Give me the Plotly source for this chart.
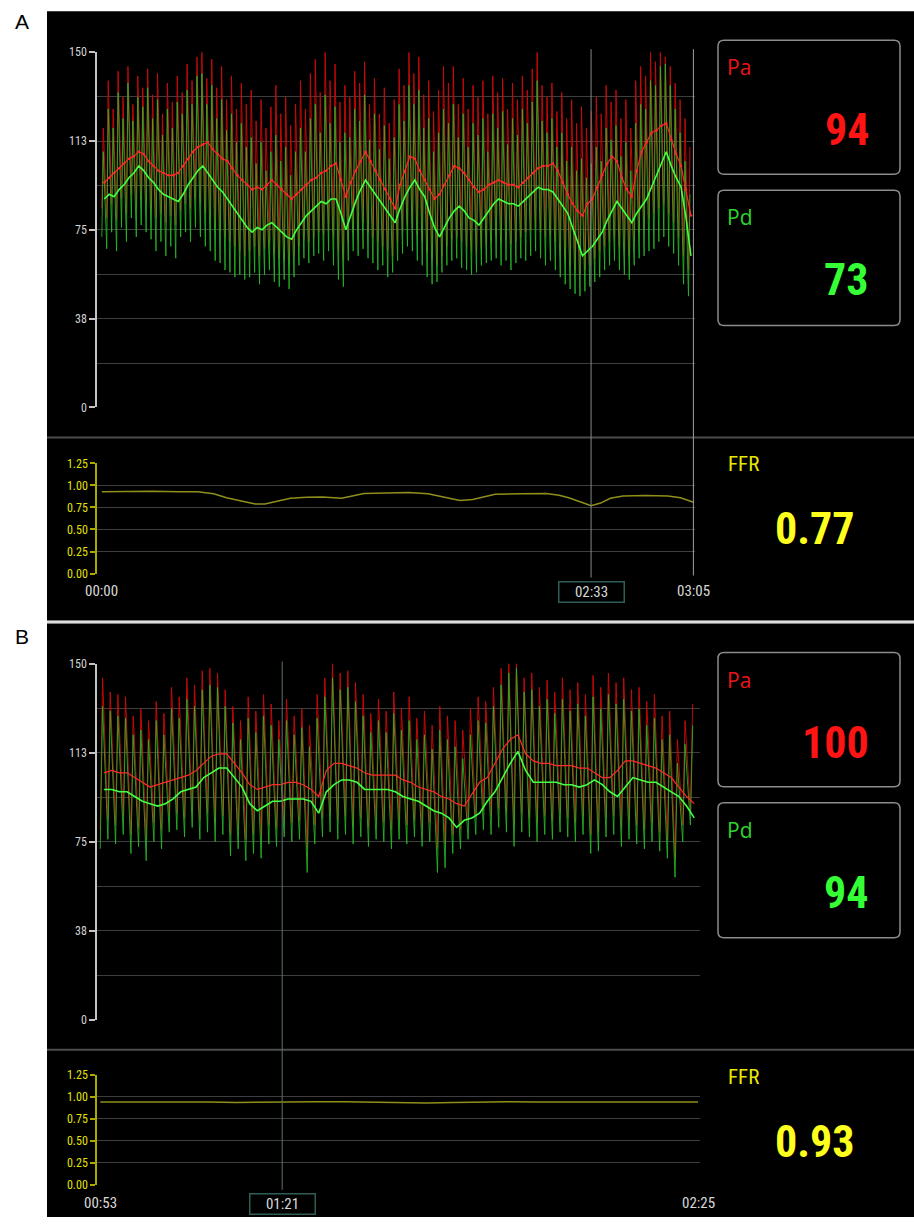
import plotly.graph_objects as go

W, H = 914, 1224
FONT = "Liberation Sans Narrow, Roboto Condensed, DejaVu Sans Condensed, Roboto, sans-serif"
FONT_L = "Open Sans, Noto Sans, Roboto, sans-serif"

# ---------------- Panel A data ----------------
a_time_range = [0, 185]            # seconds (00:00 - 03:05)
a_cursor = 153                     # 02:33
a_time_labels = ["00:00", "03:05"]
a_cursor_label = "02:33"
a_pa_value = "94"
a_pd_value = "73"
a_ffr_value = "0.77"

a_pa_sys = [
    118, 138, 126, 142, 131, 144, 128, 140, 135, 143,
    132, 141, 124, 137, 129, 140, 133, 145, 138, 148,
    150, 139, 147, 135, 144, 130, 140, 126, 137, 128,
    134, 121, 130, 118, 127, 136, 124, 131, 119, 128,
    138, 126, 141, 147, 133, 150, 138, 145, 129, 136,
    131, 142, 137, 146, 128, 139, 124, 135, 120, 130,
    143, 136, 150, 141, 148, 132, 138, 125, 134, 144,
    137, 144, 128, 139, 126, 136, 131, 138, 124, 140,
    133, 139, 126, 137, 130, 140, 134, 143, 150, 136,
    131, 137, 125, 133, 122, 130, 120, 127, 118, 125,
    131, 124, 136, 129, 134, 122, 130, 118, 138, 144,
    140, 150, 146, 150, 148, 144, 137, 130, 122, 110]
a_pd_sys = [
    108, 126, 118, 133, 122, 137, 121, 131, 127, 135,
    122, 130, 115, 126, 118, 129, 124, 134, 128, 140,
    141, 128, 136, 122, 130, 117, 124, 112, 120, 110,
    114, 103, 112, 100, 108, 115, 104, 110, 98, 108,
    118, 108, 122, 128, 116, 132, 120, 127, 112, 116,
    114, 126, 121, 132, 113, 124, 109, 119, 105, 114,
    128, 121, 136, 128, 134, 118, 122, 108, 116, 126,
    120, 128, 114, 124, 110, 120, 115, 122, 108, 124,
    118, 125, 111, 122, 115, 126, 120, 129, 138, 121,
    116, 122, 110, 116, 104, 110, 100, 105, 97, 103,
    110, 104, 118, 113, 119, 106, 112, 100, 120, 128,
    126, 138, 136, 144, 145, 136, 126, 116, 104, 90]
a_pa_dia = [
    84, 80, 86, 79, 88, 82, 90, 84, 88, 86,
    84, 80, 82, 78, 81, 77, 83, 86, 84, 88,
    86, 82, 80, 76, 74, 72, 70, 68, 66, 64,
    66, 68, 64, 67, 69, 65, 63, 62, 61, 64,
    68, 71, 70, 72, 74, 73, 75, 72, 66, 62,
    70, 74, 76, 78, 74, 72, 70, 68, 66, 64,
    70, 74, 77, 76, 73, 70, 66, 62, 60, 64,
    68, 71, 72, 70, 68, 66, 65, 67, 69, 70,
    72, 70, 71, 69, 70, 72, 74, 75, 76, 74,
    72, 73, 70, 66, 62, 60, 58, 56, 58, 60,
    63, 66, 68, 70, 72, 68, 66, 64, 70, 74,
    76, 80, 82, 84, 86, 82, 78, 72, 64, 58]
a_pd_dia = [
    72, 67, 74, 66, 76, 70, 80, 72, 77, 74,
    71, 66, 70, 64, 68, 63, 72, 74, 70, 76,
    72, 68, 66, 62, 61, 58, 57, 55, 56, 54,
    55, 57, 52, 56, 58, 53, 51, 54, 50, 55,
    60, 63, 61, 64, 65, 62, 66, 60, 54, 51,
    62, 66, 64, 67, 63, 61, 58, 60, 55, 57,
    62, 65, 68, 66, 62, 60, 55, 52, 53, 57,
    60, 62, 63, 59, 58, 56, 57, 60, 61, 62,
    63, 60, 62, 58, 61, 63, 62, 64, 66, 63,
    60, 62, 58, 55, 52, 50, 48, 47, 49, 51,
    53, 55, 58, 60, 62, 58, 56, 54, 60, 63,
    64, 66, 67, 70, 72, 68, 65, 60, 52, 47]
a_pa_mean = [
    95, 97, 99, 101, 103, 105, 106, 108, 107, 104,
    102, 100, 99, 98, 98, 99, 102, 105, 108, 110,
    111, 112, 109, 107, 105, 104, 101, 98, 96, 94,
    92, 93, 92, 94, 96, 94, 92, 90, 88, 90,
    92, 94, 96, 97, 99, 100, 102, 103, 96, 89,
    95, 100, 104, 108, 104, 100, 96, 92, 88, 84,
    94, 100, 106, 105, 100, 96, 92, 88, 90, 94,
    98, 102, 101, 99, 96, 93, 91, 92, 94, 95,
    96, 95, 94, 94, 93, 95, 97, 99, 101, 102,
    102, 103, 100, 95, 90, 86, 83, 81, 86, 88,
    93, 98, 103, 106, 104, 97, 92, 89, 100, 108,
    112, 116, 117, 119, 120, 113, 107, 102, 92, 81]
a_pd_mean = [
    88, 90, 89, 92, 94, 97, 99, 102, 100, 97,
    95, 92, 90, 89, 88, 87, 90, 94, 97, 100,
    102, 99, 96, 93, 91, 88, 85, 82, 79, 76,
    74, 76, 75, 77, 78, 76, 74, 72, 71, 75,
    78, 81, 83, 85, 87, 86, 88, 88, 82, 75,
    81, 87, 92, 96, 93, 90, 87, 84, 81, 78,
    84, 89, 93, 96, 92, 89, 82, 76, 72, 76,
    80, 83, 85, 83, 80, 79, 77, 80, 83, 86,
    88, 87, 86, 86, 85, 87, 89, 91, 93, 92,
    92, 91, 88, 85, 82, 76, 70, 64, 66, 68,
    71, 74, 79, 83, 87, 84, 81, 78, 82, 85,
    88, 93, 98, 103, 108, 102, 97, 93, 80, 64]
a_ffr_t = [0, 8, 16, 24, 30, 35, 39, 44, 48, 51,
           55, 59, 64, 69, 75, 79, 82, 89, 96, 102,
           107, 112, 116, 120, 123, 131, 139, 143, 146, 150,
           153, 156, 159, 163, 170, 177, 181, 185]
a_ffr = [0.93, 0.935, 0.935, 0.93, 0.93, 0.905, 0.86, 0.82, 0.79, 0.79,
         0.82, 0.855, 0.865, 0.87, 0.855, 0.885, 0.91, 0.915, 0.92, 0.905,
         0.87, 0.83, 0.84, 0.87, 0.90, 0.905, 0.91, 0.89, 0.86, 0.81,
         0.77, 0.80, 0.855, 0.88, 0.885, 0.88, 0.86, 0.81]

# ---------------- Panel B data ----------------
b_time_range = [53, 145]           # seconds (00:53 - 02:25)
b_cursor = 81                      # 01:21
b_time_labels = ["00:53", "02:25"]
b_cursor_label = "01:21"
b_pa_value = "100"
b_pd_value = "94"
b_ffr_value = "0.93"

b_pa_sys = [
    144, 138, 137, 136, 128, 131, 126, 134, 129, 140,
    136, 144, 141, 147, 148, 146, 139, 132, 126, 136,
    130, 137, 133, 126, 135, 128, 131, 124, 137, 144,
    150, 146, 147, 142, 137, 129, 135, 130, 138, 131,
    136, 127, 130, 124, 132, 128, 126, 122, 131, 136,
    134, 140, 148, 150, 150, 144, 146, 140, 143, 138,
    144, 139, 142, 137, 145, 140, 146, 142, 144, 139,
    140, 134, 137, 128, 130, 118, 126, 133]
b_pd_sys = [
    132, 130, 128, 127, 120, 122, 118, 126, 120, 131,
    127, 135, 132, 139, 141, 140, 132, 125, 118, 127,
    121, 128, 124, 118, 126, 120, 123, 115, 127, 136,
    144, 139, 140, 134, 128, 121, 126, 121, 129, 122,
    126, 118, 120, 114, 122, 118, 115, 110, 120, 126,
    125, 132, 141, 146, 148, 138, 139, 132, 135, 129,
    135, 130, 133, 128, 136, 131, 137, 133, 135, 130,
    131, 124, 127, 118, 120, 108, 116, 124]
b_pa_dia = [
    80, 84, 82, 86, 78, 81, 76, 83, 80, 86,
    87, 85, 88, 84, 87, 83, 86, 78, 80, 76,
    78, 77, 82, 81, 84, 83, 84, 72, 82, 85,
    87, 84, 86, 82, 85, 81, 84, 83, 80, 84,
    82, 84, 81, 83, 72, 74, 78, 80, 84, 86,
    88, 86, 89, 87, 82, 87, 85, 83, 86, 84,
    87, 85, 83, 86, 78, 79, 85, 86, 81, 84,
    82, 80, 83, 79, 76, 68, 82, 88]
b_pd_dia = [
    72, 76, 74, 78, 70, 73, 67, 75, 72, 79,
    80, 77, 81, 76, 79, 75, 78, 69, 72, 67,
    70, 68, 74, 73, 77, 75, 76, 62, 74, 77,
    79, 76, 78, 74, 77, 73, 76, 75, 72, 76,
    74, 77, 73, 75, 62, 64, 70, 72, 76, 78,
    80, 78, 81, 79, 73, 79, 77, 75, 78, 76,
    79, 77, 75, 78, 70, 71, 77, 78, 73, 76,
    74, 72, 75, 71, 68, 60, 75, 82]
b_pa_mean = [
    104, 105, 104, 104, 102, 100, 98, 99, 100, 101,
    102, 103, 105, 108, 111, 112, 112, 108, 104, 99,
    97, 98, 99, 99, 100, 100, 99, 97, 94, 105,
    108, 108, 107, 106, 104, 103, 103, 103, 103, 101,
    100, 98, 97, 96, 94, 93, 91, 90, 95, 100,
    102, 108, 114, 118, 120, 112, 109, 108, 108, 107,
    107, 107, 106, 106, 104, 102, 102, 105, 109, 109,
    108, 107, 106, 104, 102, 98, 94, 91]
b_pd_mean = [
    97, 97, 96, 96, 94, 92, 91, 90, 91, 93,
    96, 97, 98, 102, 104, 106, 106, 102, 98, 91,
    88, 90, 92, 92, 93, 93, 93, 92, 87, 96,
    99, 101, 101, 100, 97, 97, 97, 97, 96, 94,
    93, 92, 90, 88, 87, 85, 81, 84, 85, 87,
    92, 96, 102, 108, 113, 105, 100, 100, 100, 100,
    99, 99, 98, 99, 101, 99, 96, 94, 98, 102,
    101, 100, 100, 98, 96, 94, 90, 85]
b_ffr = [0.94, 0.94, 0.94, 0.945, 0.94, 0.935, 0.94, 0.94, 0.945, 0.945,
         0.94, 0.935, 0.93, 0.935, 0.94, 0.945, 0.94, 0.94, 0.94, 0.94,
         0.935, 0.935, 0.94]

# shared axis tick labels
press_tickvals = [0, 37.5, 75, 112.5, 150]
press_ticktext = ["0", "38", "75", "113", "150"]
press_minor = [18.75, 56.25, 93.75, 131.25]
ffr_tickvals = [0, 0.25, 0.5, 0.75, 1.0, 1.25]

# page-to-screenshot vertical compensation (observed offset / scale of the capture)
Y_OFF, Y_SCALE = 7.8, 0.988


def px(p):
    return p / W


def py(p):
    return 1 - ((p - Y_OFF) / Y_SCALE) / H


def pulses(t0, t1, sys, dia):
    n = len(sys)
    T = (t1 - t0) / n
    xs, ys = [], []
    for i in range(n):
        ts = t0 + i * T
        xs += [ts, ts + 0.3 * T]
        ys += [dia[i], sys[i]]
    return xs, ys


def beat_centers(t0, t1, n):
    T = (t1 - t0) / n
    return [t0 + (i + 0.5) * T for i in range(n)]


def even_times(t0, t1, n):
    return [t0 + (t1 - t0) * i / (n - 1) for i in range(n)]


fig = go.Figure()

PA_COL = "rgba(205,10,10,0.92)"
PD_COL = "rgba(40,185,40,0.85)"
PA_MEAN = "#ff2a2a"
PD_MEAN = "#45ff45"
FFR_COL = "#8f8f1c"


def add_panel(xa, ya, xf, yf, trange, pa_sys, pa_dia, pd_sys, pd_dia, pa_mean, pd_mean, ffr_t, ffr, cursor,
              dotted_mean):
    t0, t1 = trange
    x, y = pulses(t0, t1, pa_sys, pa_dia)
    fig.add_trace(go.Scatter(x=x, y=y, mode="lines", line=dict(color=PA_COL, width=1),
                             xaxis=xa, yaxis=ya, hoverinfo="skip"))
    x, y = pulses(t0, t1, pd_sys, pd_dia)
    fig.add_trace(go.Scatter(x=x, y=y, mode="lines", line=dict(color=PD_COL, width=1),
                             xaxis=xa, yaxis=ya, hoverinfo="skip"))
    tc = beat_centers(t0, t1, len(pa_mean))
    fig.add_trace(go.Scatter(x=tc, y=pa_mean, mode="lines+markers" if dotted_mean else "lines",
                             line=dict(color=PA_MEAN, width=1.2),
                             marker=dict(size=2.5, color=PA_MEAN),
                             xaxis=xa, yaxis=ya, hoverinfo="skip"))
    fig.add_trace(go.Scatter(x=tc, y=pd_mean, mode="lines", line=dict(color=PD_MEAN, width=1.6),
                             xaxis=xa, yaxis=ya, hoverinfo="skip"))
    fig.add_trace(go.Scatter(x=ffr_t, y=ffr, mode="lines", line=dict(color=FFR_COL, width=1.5),
                             xaxis=xf, yaxis=yf, hoverinfo="skip"))
    fig.add_trace(go.Scatter(x=[cursor], y=[-0.045], mode="markers", cliponaxis=False,
                             marker=dict(symbol="triangle-up", size=8, color="#2fb9a2"),
                             xaxis=xf, yaxis=yf, hoverinfo="skip"))


add_panel("x", "y", "x2", "y2", a_time_range, a_pa_sys, a_pa_dia, a_pd_sys, a_pd_dia,
          a_pa_mean, a_pd_mean, a_ffr_t, a_ffr, a_cursor, True)
add_panel("x3", "y3", "x4", "y4", b_time_range, b_pa_sys, b_pa_dia, b_pd_sys, b_pd_dia,
          b_pa_mean, b_pd_mean, even_times(b_time_range[0], b_time_range[1], len(b_ffr)), b_ffr, b_cursor,
          False)

GRID = "#3e3e3e"


def press_axis(top, bottom):
    return dict(domain=[py(bottom), py(top)], range=[0, 150], tickmode="array",
                tickvals=press_tickvals, ticktext=press_ticktext, showgrid=True, gridcolor=GRID,
                gridwidth=1, zeroline=False, showline=True, linecolor="#c4c4c4", linewidth=1.5,
                ticks="outside", ticklen=6, tickwidth=1.5, tickcolor="#c4c4c4",
                tickfont=dict(color="#d2d2d2", size=12, family=FONT),
                minor=dict(tickmode="array", tickvals=press_minor, showgrid=True, gridcolor=GRID, ticks=""),
                fixedrange=True)


def ffr_axis(top, bottom):
    return dict(domain=[py(bottom), py(top)], range=[0, 1.25], tickmode="array",
                tickvals=ffr_tickvals, tickformat=".2f", showgrid=True, gridcolor=GRID,
                gridwidth=1, zeroline=False, showline=True, linecolor="#a9a900", linewidth=1.5,
                ticks="outside", ticklen=5, tickwidth=1.5, tickcolor="#a9a900",
                tickfont=dict(color="#e2e200", size=12, family=FONT), fixedrange=True)


def time_axis(rng, left, right):
    return dict(domain=[px(left), px(right)], range=rng, visible=False, fixedrange=True)


a_rng = [a_time_range[0] - 1.5, a_time_range[1] + 0.5]
b_rng = [b_time_range[0] - 0.5, b_time_range[1] + 0.3]

fig.update_layout(
    width=W, height=H, margin=dict(l=0, r=0, t=0, b=0),
    paper_bgcolor="white", plot_bgcolor="rgba(0,0,0,0)", showlegend=False,
    xaxis=dict(time_axis(a_rng, 97, 695), anchor="y"),
    yaxis=dict(press_axis(53, 408), anchor="x"),
    xaxis2=dict(time_axis(a_rng, 97, 695), anchor="y2"),
    yaxis2=dict(ffr_axis(464, 574), anchor="x2"),
    xaxis3=dict(time_axis(b_rng, 97, 700), anchor="y3"),
    yaxis3=dict(press_axis(664, 1020), anchor="x3"),
    xaxis4=dict(time_axis(b_rng, 97, 700), anchor="y4"),
    yaxis4=dict(ffr_axis(1075, 1185), anchor="x4"),
)

shapes = []
# black panels
shapes.append(dict(type="rect", xref="paper", yref="paper", x0=px(47), x1=1, y0=py(621), y1=py(12),
                   fillcolor="black", line=dict(width=0), layer="below"))
shapes.append(dict(type="rect", xref="paper", yref="paper", x0=px(47), x1=1, y0=0, y1=py(624),
                   fillcolor="black", line=dict(width=0), layer="below"))
shapes.append(dict(type="line", xref="paper", yref="paper", x0=px(47), x1=1, y0=py(622.5), y1=py(622.5),
                   line=dict(color="#bdbdbd", width=1)))
# separators
for yy in (438, 1050):
    shapes.append(dict(type="line", xref="paper", yref="paper", x0=px(47), x1=1, y0=py(yy), y1=py(yy),
                       line=dict(color="#4c4c4c", width=2)))
# cursor / end lines
shapes.append(dict(type="line", xref="x", yref="paper", x0=a_cursor, x1=a_cursor, y0=py(578), y1=py(50),
                   line=dict(color="#7d8c8a", width=1)))
shapes.append(dict(type="line", xref="x", yref="paper", x0=a_time_range[1], x1=a_time_range[1],
                   y0=py(576), y1=py(50), line=dict(color="#a0a0a0", width=1)))
shapes.append(dict(type="line", xref="x3", yref="paper", x0=b_cursor, x1=b_cursor, y0=py(1190), y1=py(662),
                   line=dict(color="#5f706e", width=1)))


def rbox(x0, y0, x1, y1, r=6):
    pts = (f"M {px(x0 + r)},{py(y0)} L {px(x1 - r)},{py(y0)} Q {px(x1)},{py(y0)} {px(x1)},{py(y0 + r)} "
           f"L {px(x1)},{py(y1 - r)} Q {px(x1)},{py(y1)} {px(x1 - r)},{py(y1)} "
           f"L {px(x0 + r)},{py(y1)} Q {px(x0)},{py(y1)} {px(x0)},{py(y1 - r)} "
           f"L {px(x0)},{py(y0 + r)} Q {px(x0)},{py(y0)} {px(x0 + r)},{py(y0)} Z")
    return dict(type="path", xref="paper", yref="paper", path=pts, line=dict(color="#8c8c8c", width=1.5))


for (bx0, by0, bx1, by1) in [(718, 41, 900, 175), (718, 191, 900, 326),
                             (718, 653, 900, 787), (718, 803, 900, 938)]:
    shapes.append(rbox(bx0, by0, bx1, by1))

fig.update_layout(shapes=shapes)

ann = []


def text(x, y, s, color, size, xanchor="left", bold=False, family=FONT, ref=("paper", "paper")):
    ann.append(dict(x=x, y=y, xref=ref[0], yref=ref[1], text=f"<b>{s}</b>" if bold else s,
                    showarrow=False, xanchor=xanchor, yanchor="middle",
                    font=dict(color=color, size=size, family=family)))


# panel letters
text(px(13), py(22), "A", "black", 21, family="Liberation Sans, Arial, sans-serif")
text(px(13), py(637), "B", "black", 21, family="Liberation Sans, Arial, sans-serif")

for (off, pa_v, pd_v, ffr_v) in [(0, a_pa_value, a_pd_value, a_ffr_value),
                                 (612, b_pa_value, b_pd_value, b_ffr_value)]:
    text(px(725), py(68 + off), "Pa", "#e8141a", 21, family=FONT_L)
    text(px(871), py(131 + off), pa_v, "#ff1414", 44, xanchor="right", bold=True)
    text(px(725), py(218 + off), "Pd", "#2fd22f", 21, family=FONT_L)
    text(px(870), py(281 + off), pd_v, "#35ff35", 44, xanchor="right", bold=True)
    text(px(726), py(465 + off), "FFR", "#e8e800", 21, family=FONT)
    text(px(815), py(530 + off), ffr_v, "#ffff1e", 44, xanchor="center", bold=True)

# time labels
for (xr, labels, rng, yy) in [("x2", a_time_labels, a_time_range, 591), ("x4", b_time_labels, b_time_range, 1203)]:
    text(rng[0], py(yy), labels[0], "#d8d8d8", 15, xanchor="center", ref=(xr, "paper"))
    text(rng[1], py(yy), labels[1], "#d8d8d8", 15, xanchor="center", ref=(xr, "paper"))

for (xr, cur, lab, yy) in [("x2", a_cursor, a_cursor_label, 592), ("x4", b_cursor, b_cursor_label, 1204)]:
    ann.append(dict(x=cur, y=py(yy), xref=xr, yref="paper", text=lab, showarrow=False,
                    xanchor="center", yanchor="middle", width=62, height=17, borderpad=1,
                    bordercolor="#2f5c57", borderwidth=1.5, bgcolor="black",
                    font=dict(color="#d8d8d8", size=15, family=FONT)))

fig.update_layout(annotations=ann)

post = ("var h=document.documentElement;h.style.margin='0';h.style.padding='0';h.style.height='100%';"
        "h.style.overflow='hidden';"
        "h.style.background='linear-gradient(to right,#fff 47px,#000 47px) left bottom/100% 40px no-repeat,#fff';"
        "document.body.style.margin='0';document.body.style.padding='0';"
        "document.body.style.overflow='hidden';document.body.style.background='transparent';"
        "var gd=document.getElementById('{plot_id}');gd.style.position='absolute';"
        "gd.style.left='0px';gd.style.top='0px';")

fig.write_html("out.html", config={"displayModeBar": False}, post_script=post)
